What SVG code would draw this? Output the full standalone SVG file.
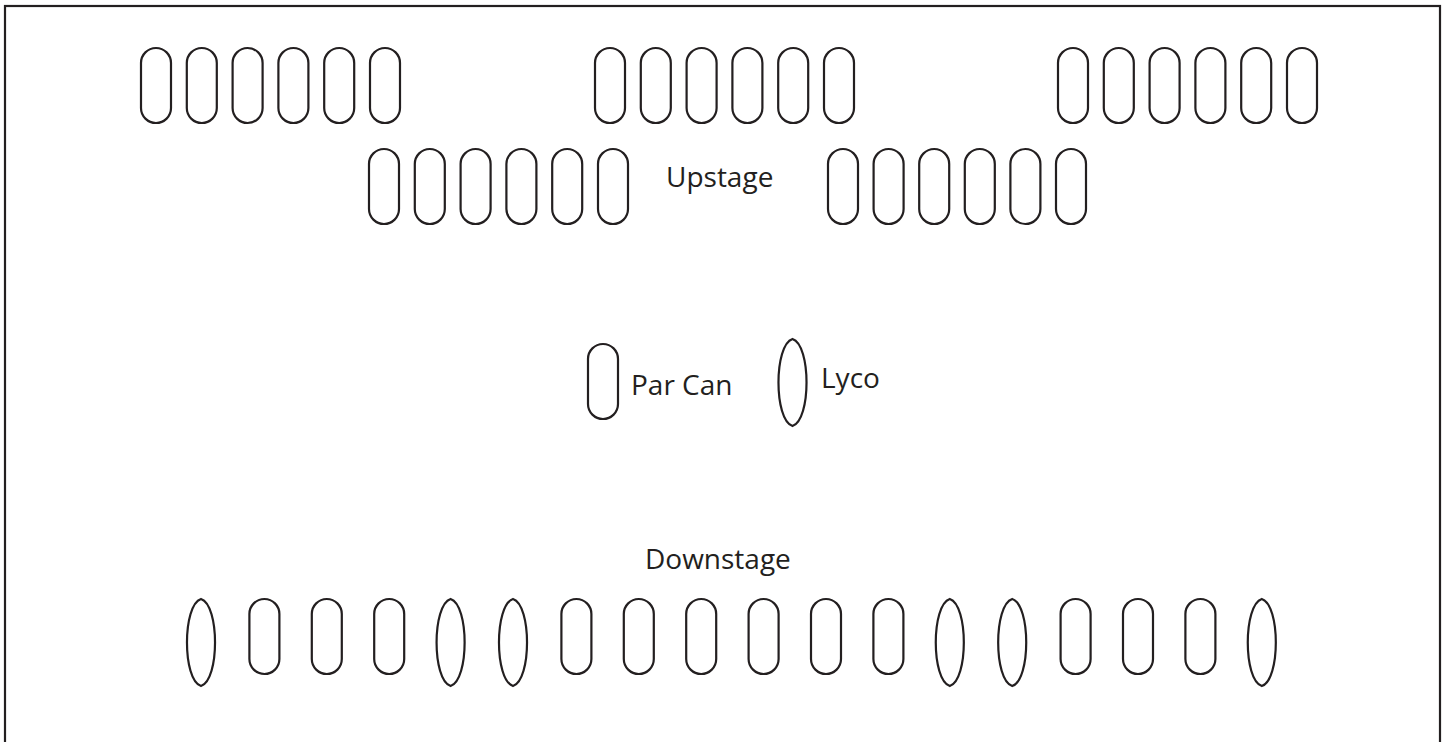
<svg xmlns="http://www.w3.org/2000/svg" width="1445" height="742" viewBox="0 0 1445 742">
<style>
.c{fill:none;stroke:#231f20;stroke-width:2.2}
.e{fill:none;stroke:#231f20;stroke-width:2.2}
.t{font-family:"Open Sans","Noto Sans",sans-serif;font-size:28px;fill:#231f20}
.b{fill:#fff;stroke:#231f20;stroke-width:2.2}
</style>
<defs>
<rect id="cap" class="c" x="0" y="0" width="30" height="75" rx="15" ry="15"/>
<path id="lens" class="e" d="M0 0 C18.7 6 18.7 81 0 87 C-18.7 81 -18.7 6 0 0 Z"/>
</defs>
<rect class="b" x="5" y="6" width="1435" height="780"/>
<g id="upstage-top-left">
<use href="#cap" x="141" y="48"/><use href="#cap" x="186.8" y="48"/><use href="#cap" x="232.6" y="48"/><use href="#cap" x="278.4" y="48"/><use href="#cap" x="324.2" y="48"/><use href="#cap" x="370" y="48"/>
</g>
<g id="upstage-top-center">
<use href="#cap" x="595" y="48"/><use href="#cap" x="640.8" y="48"/><use href="#cap" x="686.6" y="48"/><use href="#cap" x="732.4" y="48"/><use href="#cap" x="778.2" y="48"/><use href="#cap" x="824" y="48"/>
</g>
<g id="upstage-top-right">
<use href="#cap" x="1058" y="48"/><use href="#cap" x="1103.8" y="48"/><use href="#cap" x="1149.6" y="48"/><use href="#cap" x="1195.4" y="48"/><use href="#cap" x="1241.2" y="48"/><use href="#cap" x="1287" y="48"/>
</g>
<g id="upstage-second-left">
<use href="#cap" x="369" y="149"/><use href="#cap" x="414.8" y="149"/><use href="#cap" x="460.6" y="149"/><use href="#cap" x="506.4" y="149"/><use href="#cap" x="552.2" y="149"/><use href="#cap" x="598" y="149"/>
</g>
<g id="upstage-second-right">
<use href="#cap" x="828" y="149"/><use href="#cap" x="873.6" y="149"/><use href="#cap" x="919.2" y="149"/><use href="#cap" x="964.8" y="149"/><use href="#cap" x="1010.4" y="149"/><use href="#cap" x="1056" y="149"/>
</g>
<g id="label-upstage"><text class="t" x="666" y="187">Upstage</text></g>
<g id="legend-parcan">
<use href="#cap" x="588" y="344"/>
<text class="t" x="631" y="395">Par Can</text>
</g>
<g id="legend-lyco">
<use href="#lens" x="792.5" y="339"/>
<text class="t" x="821" y="388">Lyco</text>
</g>
<g id="label-downstage"><text class="t" x="645" y="569">Downstage</text></g>
<g id="downstage-row">
<use href="#lens" x="201" y="599"/>
<use href="#cap" x="249.4" y="599"/>
<use href="#cap" x="311.8" y="599"/>
<use href="#cap" x="374.2" y="599"/>
<use href="#lens" x="450.6" y="599"/>
<use href="#lens" x="513" y="599"/>
<use href="#cap" x="561.4" y="599"/>
<use href="#cap" x="623.8" y="599"/>
<use href="#cap" x="686.2" y="599"/>
<use href="#cap" x="748.6" y="599"/>
<use href="#cap" x="811" y="599"/>
<use href="#cap" x="873.4" y="599"/>
<use href="#lens" x="949.8" y="599"/>
<use href="#lens" x="1012.2" y="599"/>
<use href="#cap" x="1060.6" y="599"/>
<use href="#cap" x="1123" y="599"/>
<use href="#cap" x="1185.4" y="599"/>
<use href="#lens" x="1261.8" y="599"/>
</g>
</svg>
